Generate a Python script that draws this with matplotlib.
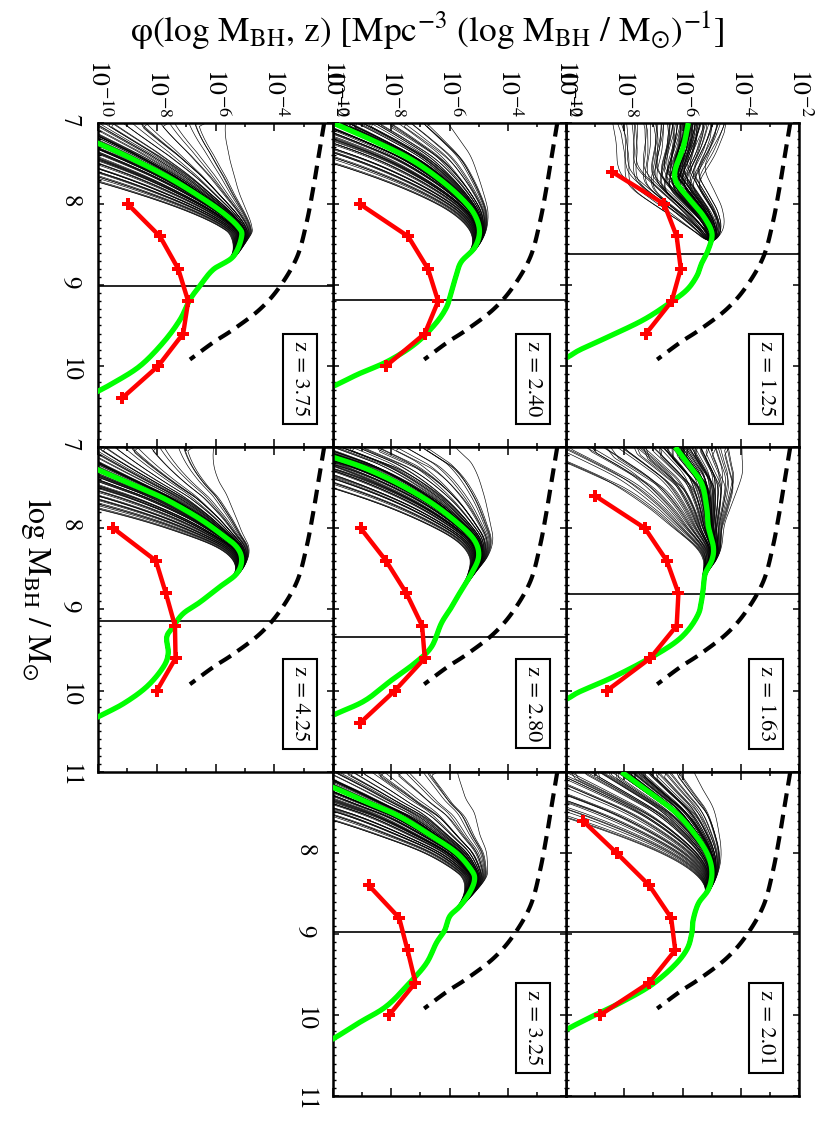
import numpy as np
import matplotlib
matplotlib.use('Agg')
import matplotlib.pyplot as plt
from matplotlib.ticker import FixedLocator, NullFormatter

plt.rcParams['font.family'] = 'STIXGeneral'
plt.rcParams['mathtext.fontset'] = 'stix'
plt.rcParams['mathtext.default'] = 'regular'

# ---------------- data ----------------
redshift_labels = ['1.25', '1.63', '2.01', '2.40', '2.80', '3.25', '3.75', '4.25']

# completeness limit (vertical line in the original orientation)
mass_limit = [8.62, 8.81, 8.97, 9.19, 9.34, 8.97, 9.01, 9.14]

# best-fit (green) mass function, log M_BH and log phi
green_m_125 = [7.00, 7.29, 7.58, 7.74, 7.95, 8.15, 8.36, 8.56, 8.73, 8.89, 9.06, 9.22, 9.43, 9.63, 9.80, 9.90, 10.1]
green_p_125 = [-5.80, -5.97, -6.25, -6.20, -5.74, -5.28, -4.99, -5.11, -5.34, -5.51, -5.85, -6.43, -7.34, -8.49, -9.52, -10.0, -11.2]
green_m_163 = [7.00, 7.24, 7.45, 7.74, 7.98, 8.23, 8.39, 8.56, 8.72, 8.88, 9.05, 9.25, 9.42, 9.62, 9.83, 10.01, 10.08, 10.3]
green_p_163 = [-6.25, -5.74, -5.34, -5.17, -5.11, -4.94, -4.99, -5.22, -5.28, -5.34, -5.45, -5.80, -6.31, -7.23, -8.37, -9.52, -9.86, -11.0]
green_m_201 = [7.00, 7.26, 7.51, 7.80, 8.04, 8.25, 8.45, 8.62, 8.82, 8.99, 9.19, 9.40, 9.64, 9.85, 10.01, 10.18, 10.4]
green_p_201 = [-8.09, -7.11, -6.20, -5.51, -5.11, -4.99, -5.11, -5.45, -5.63, -5.68, -5.85, -6.31, -7.11, -8.14, -9.06, -9.98, -11.0]
green_m_240 = [7.00, 7.19, 7.43, 7.68, 7.93, 8.13, 8.34, 8.54, 8.71, 8.87, 9.08, 9.28, 9.49, 9.73, 9.94, 10.10, 10.23, 10.4]
green_p_240 = [-10.0, -8.79, -7.42, -6.39, -5.59, -5.14, -4.97, -5.14, -5.59, -5.76, -5.93, -6.11, -6.51, -7.19, -8.11, -9.13, -9.87, -10.9]
green_m_280 = [7.00, 7.14, 7.26, 7.45, 7.69, 7.94, 8.15, 8.35, 8.56, 8.76, 8.97, 9.17, 9.46, 9.66, 9.87, 10.12, 10.28, 10.45]
green_p_280 = [-11.1, -9.87, -8.90, -7.76, -6.62, -5.71, -5.14, -5.00, -5.25, -5.59, -5.93, -6.28, -6.62, -7.19, -7.99, -8.90, -9.87, -10.9]
green_m_325 = [7.00, 7.20, 7.37, 7.55, 7.80, 8.00, 8.21, 8.33, 8.49, 8.66, 8.78, 8.95, 9.11, 9.36, 9.60, 9.89, 10.09, 10.28, 10.45]
green_p_325 = [-11.3, -9.93, -8.85, -7.71, -6.57, -5.76, -5.25, -5.14, -5.31, -5.65, -5.99, -6.16, -6.45, -6.79, -7.36, -8.16, -9.08, -9.93, -10.8]
green_m_375 = [7.00, 7.25, 7.41, 7.66, 7.91, 8.11, 8.28, 8.40, 8.65, 8.81, 9.01, 9.18, 9.43, 9.71, 10.0, 10.21, 10.31, 10.45]
green_p_375 = [-11.6, -10.0, -9.02, -7.66, -6.53, -5.74, -5.23, -5.11, -5.40, -6.08, -6.53, -6.87, -7.21, -7.78, -8.57, -9.48, -10.0, -10.7]
green_m_425 = [7.00, 7.28, 7.45, 7.63, 7.86, 8.06, 8.23, 8.39, 8.56, 8.72, 8.91, 9.05, 9.21, 9.34, 9.54, 9.71, 9.95, 10.16, 10.32, 10.45]
green_p_425 = [-11.8, -10.0, -8.91, -7.78, -6.64, -5.85, -5.28, -5.11, -5.28, -5.85, -6.53, -7.10, -7.44, -7.66, -7.61, -7.78, -8.34, -9.14, -10.0, -10.7]

# binned estimates (red)
red_m_125 = [7.6, 8.0, 8.4, 8.8, 9.2, 9.6]
red_p_125 = [-8.43, -6.63, -6.20, -6.06, -6.37, -7.25]
red_m_163 = [7.6, 8.0, 8.4, 8.8, 9.2, 9.6, 10.0]
red_p_163 = [-9.00, -7.29, -6.54, -6.14, -6.20, -7.11, -8.60]
red_m_201 = [7.6, 8.0, 8.4, 8.8, 9.2, 9.6, 10.0]
red_p_201 = [-9.43, -8.26, -7.14, -6.39, -6.25, -7.14, -8.83]
red_m_240 = [8.0, 8.4, 8.8, 9.2, 9.6, 10.0]
red_p_240 = [-9.08, -7.42, -6.74, -6.39, -6.85, -8.18]
red_m_280 = [8.0, 8.4, 8.8, 9.2, 9.6, 10.0, 10.4]
red_p_280 = [-9.05, -8.18, -7.48, -6.94, -6.85, -7.88, -9.08]
red_m_325 = [8.4, 8.8, 9.2, 9.6, 10.0]
red_p_325 = [-8.77, -7.73, -7.44, -7.17, -8.07]
red_m_375 = [8.0, 8.4, 8.8, 9.2, 9.6, 10.0, 10.4]
red_p_375 = [-8.99, -7.89, -7.27, -6.93, -7.10, -7.95, -9.19]
red_m_425 = [8.0, 8.4, 8.8, 9.2, 9.6, 10.0]
red_p_425 = [-9.48, -8.03, -7.69, -7.38, -7.36, -8.00]

# local mass function (dashed)
local_m = [7.0, 7.41, 7.82, 8.23, 8.65, 9.02, 9.30, 9.55, 9.71, 9.92]
local_p = [-2.30, -2.49, -2.68, -2.90, -3.22, -3.81, -4.49, -5.40, -6.08, -6.87]

# spread of the individual posterior draws (thin black) relative to the best fit
draw_spread = [-1.0, -0.9, -0.8, -0.72, -0.64, -0.57, -0.5, -0.44, -0.39, -0.34, -0.3,
               -0.26, -0.23, -0.2, -0.17, -0.145, -0.12, -0.1, -0.08, -0.06, -0.045, -0.03,
               -0.015, 0.0, 0.015, 0.03, 0.045, 0.06, 0.08, 0.1, 0.12, 0.145, 0.17, 0.2,
               0.23, 0.26, 0.3, 0.34, 0.39, 0.44, 0.5, 0.57, 0.64, 0.72, 0.8, 0.9, 1.0]
draw_spread_b = [-0.95, -0.85, -0.76, -0.68, -0.6, -0.535, -0.47, -0.415, -0.365, -0.32,
                 -0.28, -0.245, -0.215, -0.185, -0.157, -0.132, -0.11, -0.09, -0.07, -0.052,
                 -0.037, -0.022, -0.007, 0.007, 0.022, 0.037, 0.052, 0.07, 0.09, 0.11, 0.132,
                 0.157, 0.185, 0.215, 0.245, 0.28, 0.32, 0.365, 0.415, 0.47, 0.535, 0.6, 0.68,
                 0.76, 0.85, 0.95]
# mass shift of each draw's features (fraction of the per-panel maximum shift)
draw_shift_pattern = [0.3, -0.8, 0.6, -0.2, 0.9, -0.5, 0.1, -0.9, 0.4, -0.3, 0.7, -0.6,
                      0.2, -1.0, 0.8, -0.1, 0.5, -0.7, 0.0, 1.0, -0.4, 0.3, -0.8, 0.6,
                      -0.2, 0.9, -0.5, 0.1, -0.9, 0.4, -0.3, 0.7, -0.6, 0.2, -1.0, 0.8,
                      -0.1, 0.5, -0.7, 0.0, 1.0, -0.4, 0.35, -0.65, 0.55, -0.25, 0.85]
draw_shift_pattern_b = [-0.6, 0.45, -0.15, 0.95, -0.35, 0.65, -0.85, 0.25, -0.05, 0.75,
                        -0.55, 0.15, -0.95, 0.5, -0.3, 0.85, -0.75, 0.05, 0.6, -0.45,
                        0.35, -0.9, 0.7, -0.1, 0.2, -0.65, 0.9, -0.25, 0.45, -0.8, 0.1,
                        -0.4, 0.8, -0.7, 0.3, -0.2, 0.65, -0.5, 1.0, -0.35, 0.15, -0.85,
                        0.55, -0.05, 0.4, -0.6]
draw_up = [1.3, 1.9, 2.1, 3.5, 4.7, 5.1, 5.5, 5.3]
draw_down = [2.5, 5.0, 8.0, 5.8, 5.0, 5.8, 7.8, 10.0]
draw_merge = [8.45, 8.6, 8.5, 8.7, 8.75, 8.75, 8.75, 8.65]
draw_power = [0.6, 1.5, 1.5, 2.0, 2.0, 2.0, 2.0, 2.0]
draw_max_shift = [0.22, 0.18, 0.1, 0.07, 0.07, 0.07, 0.07, 0.07]

phi_tick_labels = [r'$10^{-10}$', r'$10^{-8}$', r'$10^{-6}$', r'$10^{-4}$', r'$10^{-2}$']
mass_ticks = [7, 8, 9, 10, 11]

green_m = [green_m_125, green_m_163, green_m_201, green_m_240, green_m_280, green_m_325, green_m_375, green_m_425]
green_p = [green_p_125, green_p_163, green_p_201, green_p_240, green_p_280, green_p_325, green_p_375, green_p_425]
red_m = [red_m_125, red_m_163, red_m_201, red_m_240, red_m_280, red_m_325, red_m_375, red_m_425]
red_p = [red_p_125, red_p_163, red_p_201, red_p_240, red_p_280, red_p_325, red_p_375, red_p_425]

# ---------------- layout (figure is drawn rotated: phi horizontal, mass downward) ----------------
W, H = 830, 1127
band_left = [566, 333, 98]
band_right = [799, 566, 333]
row_top = [123, 447, 772]
row_bot = [447, 772, 1096]
placement = [(0, 0), (0, 1), (0, 2), (1, 0), (1, 1), (1, 2), (2, 0), (2, 1)]
mass_labels_for = {6: ['7', '8', '9', '10', ''], 7: ['7', '8', '9', '10', '11'], 5: ['', '8', '9', '10', '11']}


def catmull(xs, ys, n=10):
    x = np.asarray(xs, float)
    y = np.asarray(ys, float)
    px = np.concatenate([[2 * x[0] - x[1]], x, [2 * x[-1] - x[-2]]])
    py = np.concatenate([[2 * y[0] - y[1]], y, [2 * y[-1] - y[-2]]])
    ox, oy = [], []
    t = np.linspace(0, 1, n, endpoint=False)
    for i in range(1, len(px) - 2):
        for arr, out in ((px, ox), (py, oy)):
            p0, p1, p2, p3 = arr[i - 1], arr[i], arr[i + 1], arr[i + 2]
            out.extend(0.5 * ((2 * p1) + (-p0 + p2) * t + (2 * p0 - 5 * p1 + 4 * p2 - p3) * t ** 2
                              + (-p0 + 3 * p1 - 3 * p2 + p3) * t ** 3))
    ox.append(x[-1])
    oy.append(y[-1])
    return np.array(ox), np.array(oy)


fig = plt.figure(figsize=(W / 100, H / 100), dpi=100)

all_spreads = list(zip(draw_spread, draw_shift_pattern)) + list(zip(draw_spread_b, draw_shift_pattern_b))

for k, z in enumerate(redshift_labels):
    b, r = placement[k]
    left = band_left[b] / W
    width = (band_right[b] - band_left[b]) / W
    bottom = 1 - row_bot[r] / H
    height = (row_bot[r] - row_top[r]) / H
    ax = fig.add_axes([left, bottom, width, height])
    ax.set_xscale('log')

    gm, gp = catmull(green_m[k], green_p[k], 12)

    span = draw_merge[k] - 7.0
    w = np.clip((draw_merge[k] - gm) / span, 0, 1) ** draw_power[k]
    for s, d in all_spreads:
        amp = draw_up[k] if s > 0 else draw_down[k]
        shifted = np.interp(gm + d * draw_max_shift[k] * w, gm, gp)
        curve = shifted + s * amp * w + s * 0.06
        ax.plot(10 ** curve, gm, color='black', lw=0.45, zorder=2)

    ax.plot(10 ** gp, gm, color='#00ff00', lw=3.8, zorder=3, solid_capstyle='butt')

    lm, lp = catmull(local_m, local_p, 12)
    ax.plot(10 ** lp, lm, color='black', lw=3.0, dashes=(3.3, 1.9), zorder=3)

    ax.axhline(mass_limit[k], color='black', lw=1.2, zorder=2)

    ax.plot(10 ** np.array(red_p[k]), red_m[k], color='#ff0000', lw=3.2, marker='P',
            markersize=9, markeredgewidth=0, zorder=4)

    ax.text(0.86, 0.21, 'z = ' + z, transform=ax.transAxes, rotation=-90,
            ha='center', va='center', fontsize=16, zorder=5,
            bbox=dict(boxstyle='square,pad=0.32', fc='white', ec='black', lw=1.5))

    ax.set_xlim(1e-10, 1e-2)
    ax.set_ylim(11, 7)

    ax.xaxis.set_major_locator(FixedLocator([1e-10, 1e-8, 1e-6, 1e-4, 1e-2]))
    ax.xaxis.set_minor_locator(FixedLocator([1e-9, 1e-7, 1e-5, 1e-3]))
    ax.xaxis.set_minor_formatter(NullFormatter())
    ax.set_xticklabels(phi_tick_labels)
    ax.yaxis.set_major_locator(FixedLocator(mass_ticks))
    ax.yaxis.set_minor_locator(FixedLocator(np.arange(7.0, 11.01, 0.1)))
    ax.yaxis.set_minor_formatter(NullFormatter())
    ax.set_yticklabels(mass_labels_for.get(k, [''] * 5))

    ax.tick_params(axis='x', which='both', direction='in', top=True, bottom=True,
                   labelbottom=False, labeltop=(r == 0), labelrotation=-90, labelsize=18.5, pad=4)
    ax.tick_params(axis='x', which='major', length=5.5, width=1.1)
    ax.tick_params(axis='x', which='minor', length=2.8, width=1.1)
    ax.tick_params(axis='y', which='both', direction='in', left=True, right=True,
                   labelleft=(k in mass_labels_for), labelrotation=-90, labelsize=18, pad=12)
    ax.tick_params(axis='y', which='major', length=4, width=1.1)
    ax.tick_params(axis='y', which='minor', length=1.8, width=1.0)
    for sp in ax.spines.values():
        sp.set_linewidth(1.8)

fig.text(130 / W, 1 - 31 / H,
         r'φ(log M$_{BH}$, z) [Mpc$^{-3}$ (log M$_{BH}$ / M$_{\odot}$)$^{-1}$]',
         ha='left', va='center', fontsize=25.5)
fig.text(36 / W, 1 - 589 / H, r'log M$_{BH}$ / M$_{\odot}$', rotation=-90,
         ha='center', va='center', fontsize=23)

fig.savefig('out.png', dpi=100)
